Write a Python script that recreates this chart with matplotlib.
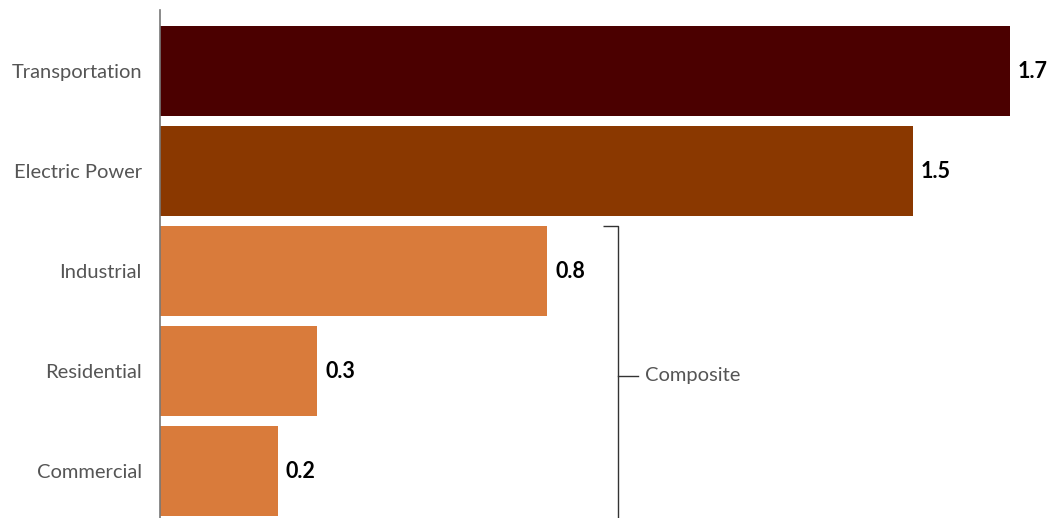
import matplotlib.pyplot as plt

sectors = ["Transportation", "Electric Power", "Industrial", "Residential", "Commercial"]
values = [1.70, 1.506, 0.774, 0.314, 0.236]
value_labels = ["1.7", "1.5", "0.8", "0.3", "0.2"]
colors = ["#4B0000", "#8A3800", "#D97B3B", "#D97B3B", "#D97B3B"]
group_label = "Composite"

plt.rcParams["font.family"] = ["Lato", "DejaVu Sans"]

fig = plt.figure(figsize=(10.49, 5.18), dpi=100)
ax = fig.add_axes([160 / 1049, 0, 889 / 1049, 508 / 518])

ypos = list(range(len(sectors)))
ax.barh(ypos, values, height=0.9, color=colors)

for y, v, lab in zip(ypos, values, value_labels):
    ax.text(v + 0.016, y, lab, va="center", ha="left", fontsize=15.5,
            fontweight="bold", color="black")

ax.set_yticks(ypos)
ax.set_yticklabels(sectors, fontsize=14.5, color="#555555")
ax.tick_params(axis="y", length=0, pad=13)
ax.set_xticks([])
ax.set_xlim(0, 889 / 500)
ax.set_ylim(4.47, -0.61)

for s in ["top", "right", "bottom"]:
    ax.spines[s].set_visible(False)
ax.spines["left"].set_color("#777777")
ax.spines["left"].set_linewidth(1.2)

# bracket around the composite sectors
bx = 0.916
ax.plot([bx - 0.03, bx, bx], [1.55, 1.55, 4.47], color="#333333", lw=1,
        clip_on=False, solid_capstyle="butt")
ax.plot([bx, bx + 0.04], [3.05, 3.05], color="#333333", lw=1)
ax.text(bx + 0.054, 3.05, group_label, va="center", ha="left",
        fontsize=14.5, color="#555555")

fig.savefig("out.png", dpi=100)
